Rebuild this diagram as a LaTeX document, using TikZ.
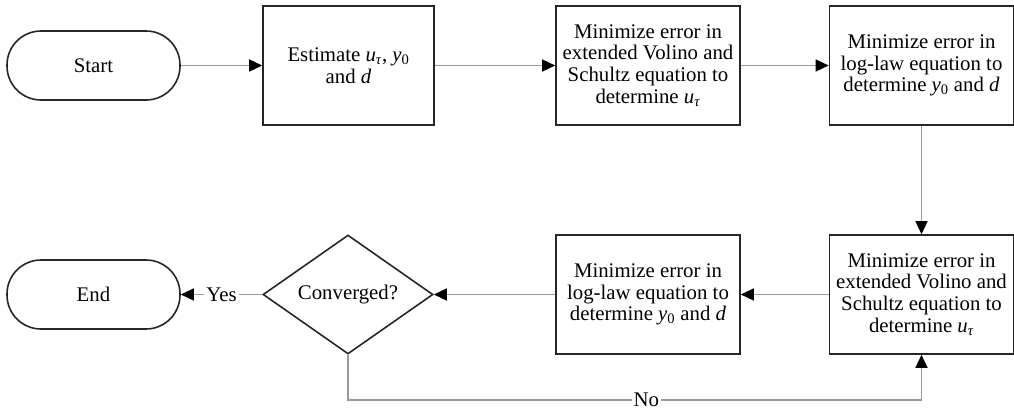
\documentclass[tikz,border=0pt]{standalone}
\usepackage{fontspec}
\setmainfont{Liberation Serif}
\usetikzlibrary{shapes.geometric,arrows.meta}

\begin{document}
\begin{tikzpicture}[x=1pt,y=-1pt,
  main node/.style={rectangle,draw=black!85,line width=1.6pt,align=center,minimum width=184pt,minimum height=119pt,inner sep=0pt,font=\fontsize{20.8}{21.7}\selectfont},
  end node/.style={main node,rounded corners=34pt,minimum width=173pt,minimum height=69pt},
  test node/.style={main node,diamond,aspect=1.43,minimum width=170pt},
  flow/.style={draw=black!40,line width=1.4pt,-{Triangle[color=black,length=13pt,width=12pt]}},
  lbl/.style={fill=white,inner sep=2pt,font=\fontsize{20.8}{21.7}\selectfont}]

\useasboundingbox (0,0) rectangle (1014,410);

\node[end node] (1) at (93.5,65.5) {Start};
\node[main node,minimum width=171pt] (2) at (348.5,65.5) {Estimate \textit{u}\textsubscript{\textit{τ}}, \textit{y}\textsubscript{0}\\and \textit{d}};
\node[main node] (3) at (648,65.5) {Minimize error in\\extended Volino and\\Schultz equation to\\determine \textit{u}\textsubscript{\textit{τ}}};
\node[main node] (4) at (921.5,65.5) {Minimize error in\\log-law equation to\\determine \textit{y}\textsubscript{0} and \textit{d}};
\node[main node] (5) at (921.5,294.5) {Minimize error in\\extended Volino and\\Schultz equation to\\determine \textit{u}\textsubscript{\textit{τ}}};
\node[main node] (6) at (648,294.5) {Minimize error in\\log-law equation to\\determine \textit{y}\textsubscript{0} and \textit{d}};
\node[test node] (7) at (348,294.5) {Converged?};
\node[end node] (8) at (93.5,294.5) {End};

\draw[flow] (1) -- (2);
\draw[flow] (2) -- (3);
\draw[flow] (3) -- (4);
\draw[flow] (4) -- (5);
\draw[flow] (5) -- (6);
\draw[flow] (6) -- (7);
\draw[flow] (7) -- node[lbl] {Yes} (8);
\draw[flow] (7.south) -- ++(0,45) -| node[lbl,pos=0.26] {No} (5.south);
\end{tikzpicture}
\end{document}
